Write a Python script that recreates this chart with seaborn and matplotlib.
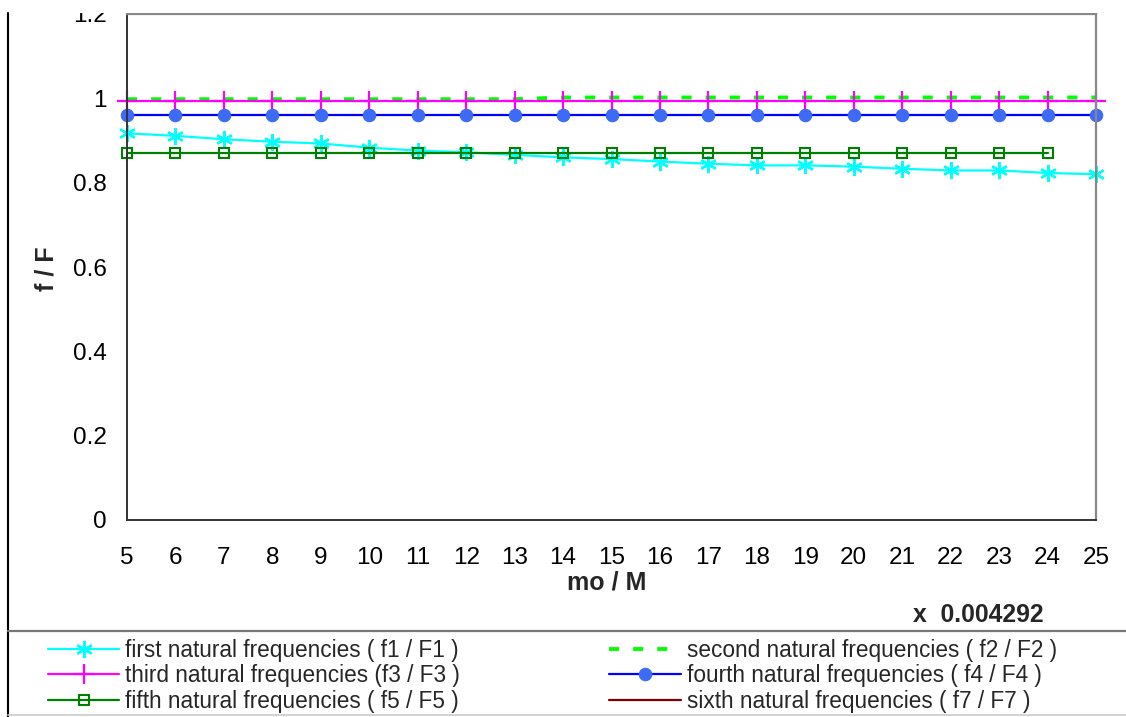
import matplotlib
matplotlib.use('Agg')
import matplotlib.pyplot as plt
from matplotlib.lines import Line2D
from matplotlib.patches import Rectangle
import seaborn as sns
import pandas as pd

# mo / M values (x axis)
mo_m = [5, 6, 7, 8, 9, 10, 11, 12, 13, 14, 15, 16, 17, 18, 19, 20, 21, 22, 23, 24, 25]

# f / F ratios
f1 = [0.917, 0.911, 0.903, 0.897, 0.893, 0.883, 0.876, 0.872, 0.866, 0.860, 0.856,
      0.850, 0.845, 0.841, 0.841, 0.838, 0.833, 0.829, 0.829, 0.823, 0.820]
f2 = [0.998, 0.998, 0.998, 0.998, 0.998, 0.998, 0.998, 0.998, 0.998, 1.002, 1.002,
      1.002, 1.002, 1.002, 1.002, 1.002, 1.002, 1.002, 1.002, 1.002, 1.002]
f3 = [0.993, 0.993, 0.993, 0.993, 0.993, 0.993, 0.993, 0.993, 0.993, 0.993, 0.993,
      0.993, 0.993, 0.993, 0.993, 0.993, 0.993, 0.993, 0.993, 0.993, 0.993]
f4 = [0.960, 0.960, 0.960, 0.960, 0.960, 0.960, 0.960, 0.960, 0.960, 0.960, 0.960,
      0.960, 0.960, 0.960, 0.960, 0.960, 0.960, 0.960, 0.960, 0.960, 0.960]
f5 = [0.871, 0.871, 0.871, 0.871, 0.871, 0.871, 0.871, 0.871, 0.871, 0.871, 0.871,
      0.871, 0.871, 0.871, 0.871, 0.871, 0.871, 0.871, 0.871, 0.871]

labels = ['first natural frequencies ( f1 / F1 )',
          'second natural frequencies ( f2 / F2 )',
          'third natural frequencies (f3 / F3 )',
          'fourth natural frequencies ( f4 / F4 )',
          'fifth natural frequencies ( f5 / F5 )',
          'sixth natural frequencies ( f7 / F7 )']

yticks = [0, 0.2, 0.4, 0.6, 0.8, 1, 1.2]
ytick_labels = ['0', '0.2', '0.4', '0.6', '0.8', '1', '1.2']

sns.set_theme(style="white")
plt.rcParams['font.family'] = ['Liberation Sans', 'DejaVu Sans']

fig = plt.figure(figsize=(11.26, 7.17), dpi=100)
ax = fig.add_axes([127 / 1126, 1 - 520 / 717, 969 / 1126, 506 / 717])

df1 = pd.DataFrame({'x': mo_m, 'y': f1})
df2 = pd.DataFrame({'x': mo_m, 'y': f2})
df3 = pd.DataFrame({'x': mo_m, 'y': f3})
df4 = pd.DataFrame({'x': mo_m, 'y': f4})
df5 = pd.DataFrame({'x': mo_m[:len(f5)], 'y': f5})

sns.lineplot(data=df1, x='x', y='y', ax=ax, color='#00FFFF', linewidth=1.6,
             marker=(6, 2, 0), markersize=12, markeredgewidth=1.7,
             markeredgecolor='#00FFFF', clip_on=False)
sns.lineplot(data=df2, x='x', y='y', ax=ax, color='#00FF00', linewidth=2.8,
             linestyle=(0, (2.6, 3.6)), clip_on=False)
sns.lineplot(data=df3, x='x', y='y', ax=ax, color='#FF00FF', linewidth=1.6,
             marker='+', markersize=15, markeredgewidth=1.6,
             markeredgecolor='#FF00FF', clip_on=False)
sns.lineplot(data=df4, x='x', y='y', ax=ax, color='#0000FF', linewidth=1.6,
             marker='o', markersize=9, markerfacecolor='#3D6BF5',
             markeredgecolor='#3D6BF5', clip_on=False)
sns.lineplot(data=df5, x='x', y='y', ax=ax, color='#008000', linewidth=1.6,
             marker='s', markersize=7.5, markerfacecolor='none',
             markeredgecolor='#008000', markeredgewidth=1.5, clip_on=False)

ax.set_xlim(5, 25)
ax.set_ylim(0, 1.2)
ax.set_xticks(mo_m)
ax.set_xticklabels([str(v) for v in mo_m])
ax.set_yticks(yticks)
ax.set_yticklabels(ytick_labels)
ax.tick_params(axis='both', direction='inout', length=11, width=0.9,
               color='#000000', labelsize=17.5, labelcolor='#000000')
ax.tick_params(axis='x', pad=14)
ax.tick_params(axis='y', pad=9)
ax.set_xlabel('')
ax.set_ylabel('')
for side in ['left', 'bottom']:
    ax.spines[side].set_color('#333333')
    ax.spines[side].set_linewidth(1.4)
for side in ['top', 'right']:
    ax.spines[side].set_color('#888888')
    ax.spines[side].set_linewidth(1.6)

fig.text(46 / 1126, 1 - 269 / 717, 'f / F', rotation=90, fontsize=18,
         fontweight='bold', ha='center', va='center')
fig.text(607 / 1126, 1 - 582 / 717, 'mo / M', fontsize=18,
         fontweight='bold', ha='center', va='center')
fig.text(978 / 1126, 1 - 615 / 717, 'x  0.004292', fontsize=17.8,
         fontweight='bold', ha='center', va='center')

# crop the top strip like the original screenshot
fig.patches.append(Rectangle((0, 1 - 13 / 717), 1, 13 / 717, transform=fig.transFigure,
                             facecolor='white', edgecolor='none', zorder=20))
# outer frame lines
fig.lines.append(Line2D([8 / 1126, 8 / 1126], [0, 1 - 13 / 717], transform=fig.transFigure,
                        color='#000000', linewidth=1.5, zorder=21))
fig.lines.append(Line2D([8 / 1126, 1], [1 - 631 / 717, 1 - 631 / 717], transform=fig.transFigure,
                        color='#777777', linewidth=1.6, zorder=21))
fig.lines.append(Line2D([8 / 1126, 1], [1 - 715 / 717, 1 - 715 / 717], transform=fig.transFigure,
                        color='#cccccc', linewidth=1.2, zorder=21))

lines = ax.get_lines()
h1, h2, h3, h4, h5 = lines[0], lines[1], lines[2], lines[3], lines[4]
h6 = Line2D([], [], color='#800000', linewidth=1.6)
handles = [h1, h3, h5, h2, h4, h6]
leg_labels = [labels[0], labels[2], labels[4], labels[1], labels[3], labels[5]]
fig.legend(handles, leg_labels, ncol=2, loc='upper left',
           bbox_to_anchor=(48 / 1126, 1 - 639 / 717), frameon=False,
           fontsize=16.3, handlelength=3.14, handletextpad=0.27,
           labelspacing=0.1, columnspacing=6.6, borderpad=0, borderaxespad=0)

fig.savefig('out.png', dpi=100)
